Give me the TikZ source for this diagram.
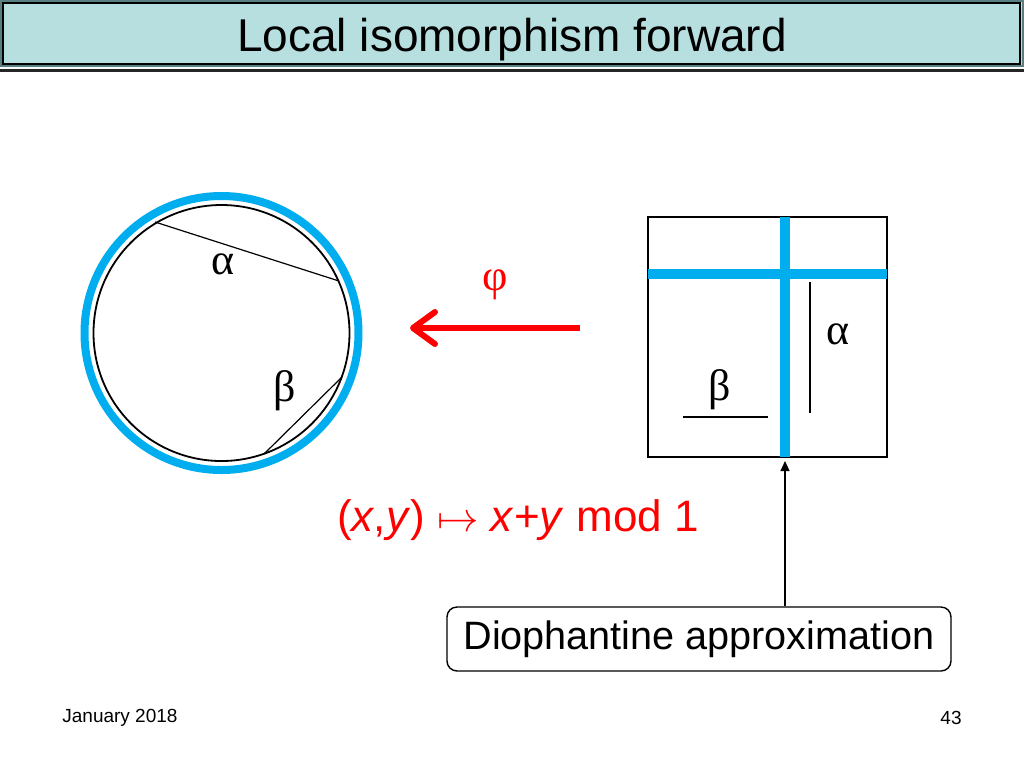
\documentclass[tikz,border=0pt]{standalone}
\usepackage{fontspec}
\setmainfont{Liberation Sans}
\newfontfamily\greekfont{Liberation Serif}
\usetikzlibrary{arrows.meta}
\definecolor{barfill}{RGB}{184,223,224}
\definecolor{barline}{RGB}{88,128,130}
\definecolor{torus}{RGB}{0,174,239}
\tikzset{
  greek/.style={font=\greekfont\fontsize{22}{24}\selectfont},
  footer/.style={font=\fontsize{9.5}{11}\selectfont,inner sep=0pt}
}
\begin{document}
\begin{tikzpicture}[x=0.5pt,y=-0.5pt]
\useasboundingbox (0,0) rectangle (1024,768);
% title bar
\fill[barfill] (0,0) rectangle (1023,66);
\draw[barline,line width=1pt] (0.5,0.5) rectangle (1022.5,66);
\draw[black,line width=1pt] (3,3) rectangle (1020,64);
\fill[black!85] (0,69) rectangle (1024,72);
\node[anchor=base,inner sep=0pt] (title) at (512,51) {\fontsize{23}{26}\selectfont Local isomorphism forward};
% circle picture
\coordinate (O) at (221.5,333);
\coordinate (A1) at (155,222);
\coordinate (A2) at (339,281);
\coordinate (B1) at (342,377);
\coordinate (B2) at (264,454);
\draw [torus,line width=4pt] (O) circle (68.5pt);
\draw [line width=0.9pt] (O) circle (64pt);
\draw [line width=0.6pt] (A1) to (A2);
\draw [line width=0.6pt] (B1) to (B2);
\node[greek] (alphaL) at (223,264) {α};
\node[greek] (betaL) at (285,391) {β};
% square picture
\coordinate (S1) at (648,217);
\coordinate (S2) at (887,457);
\coordinate (V1) at (785,217);
\coordinate (V2) at (785,457);
\coordinate (H1) at (648,274);
\coordinate (H2) at (887,274);
\coordinate (P1) at (810,282);
\coordinate (P2) at (810,413);
\coordinate (Q1) at (683,417);
\coordinate (Q2) at (768,417);
\draw [line width=0.9pt] (S1) rectangle (S2);
\draw [torus,line width=5pt] (H1) to (H2);
\draw [torus,line width=5pt] (V1) to (V2);
\draw [line width=0.6pt] (P1) to (P2);
\draw [line width=0.6pt] (Q1) to (Q2);
\node[greek] (alphaR) at (838,334) {α};
\node[greek] (betaR) at (720,390) {β};
% the map
\coordinate (M1) at (580,328);
\coordinate (M2) at (410,328);
\draw [red,line width=3pt,-{Straight Barb[length=11pt,width=16pt,round]}] (M1) to (M2);
\node[greek,text=red] (phi) at (495,285) {φ};
\node[red,font=\fontsize{22}{26}\selectfont] (rule) at (518,520)
  {(\textit{x},\textit{y}) $\mapsto$ \textit{x}+\textit{y} mod 1};
% diophantine box
\node[draw,line width=0.7pt,rounded corners=5pt,minimum width=252pt,minimum height=32pt,
  font=\fontsize{19.8}{22}\selectfont] (dio) at (699,639) {Diophantine approximation};
\draw [line width=0.6pt,-{Triangle[length=5pt,width=4.5pt]}] (dio.north -| V2) to ([yshift=-2pt]V2);
% footer
\node[footer,anchor=west] (date) at (62,718) {January 2018};
\node[footer,anchor=east] (page) at (962,718) {43};
\end{tikzpicture}
\end{document}
